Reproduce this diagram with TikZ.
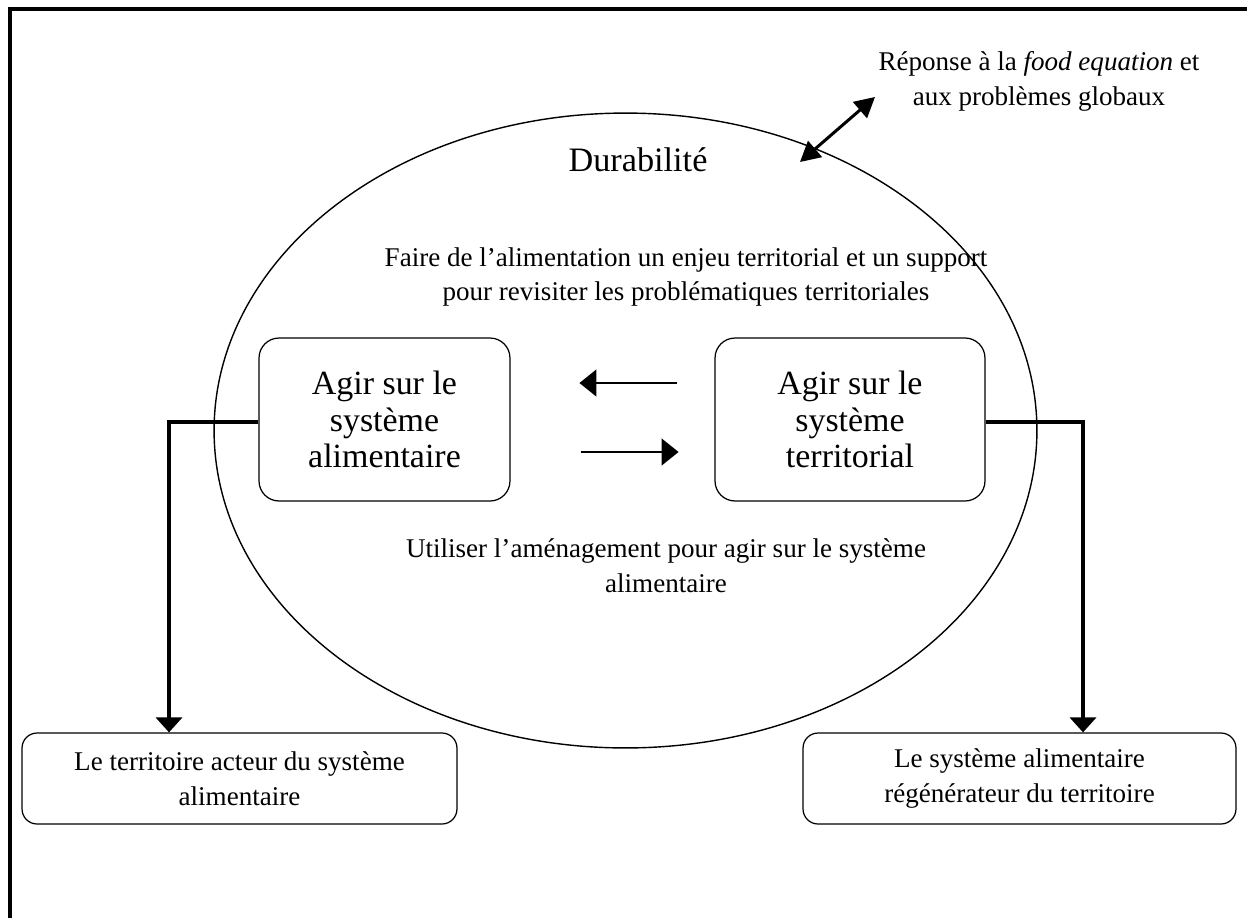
\documentclass[tikz,border=0pt]{standalone}
\usepackage{fontspec}
\setmainfont{Liberation Serif}
\usetikzlibrary{arrows.meta}

\begin{document}
\begin{tikzpicture}[x=0.02cm,y=-0.02cm,
		txt/.style={align=center,font=\fontsize{15.4}{19.9}\selectfont},
		bigbox/.style={draw,line width=0.7pt,rounded corners=0.4cm,align=center,inner sep=0pt,
			minimum height=3.26cm,font=\fontsize{19.3}{20.6}\selectfont},
		smallbox/.style={draw,line width=0.7pt,rounded corners=0.3cm,align=center,inner sep=0pt,
			minimum width=8.7cm,minimum height=1.82cm,font=\fontsize{15.4}{19.9}\selectfont},
		conn/.style={line width=2.3pt,-{Triangle[length=0.3cm,width=0.52cm]}},
		link/.style={line width=0.8pt,-{Triangle[length=0.34cm,width=0.54cm]}}]
		\useasboundingbox (0,0) rectangle (1247,917);

		% Frame
		\draw[line width=2.1pt] (10,9) rectangle (1300,1000);

		% Sustainability ellipse
		\draw[line width=0.8pt] (625.5,430.5) ellipse [x radius=8.23cm,y radius=6.35cm];
		\node (dura) at (638,160) {\fontsize{19.5}{24}\selectfont Durabilité};

		% Global link
		\node[txt] (reponse) at (1039,81) {Réponse à la \textit{food equation} et\\aux problèmes globaux};
		\coordinate (bas) at (800,162);
		\coordinate (haut) at (875,97);
		\draw[line width=1.7pt,{Triangle[length=0.4cm,width=0.42cm]}-{Triangle[length=0.4cm,width=0.42cm]}] (bas) -- (haut);

		% Two systems
		\node[txt] (faire) at (686,277) {Faire de l’alimentation un enjeu territorial et un support\\pour revisiter les problématiques territoriales};
		\node[bigbox,minimum width=5.02cm] (agiralim) at (384.5,419.5) {Agir sur le\\système\\alimentaire};
		\node[bigbox,minimum width=5.4cm] (agirterr) at (850,419.5) {Agir sur le\\système\\territorial};
		\draw[link] ([yshift=0.73cm]agirterr.west) ++(-0.74cm,0) coordinate (fl1) -- ++(-1.96cm,0);
		\draw[link] ([yshift=-0.65cm]agiralim.east) ++(1.4cm,0) coordinate (fl2) -- ++(1.96cm,0);
		\node[txt] (utiliser) at (666,566) {Utiliser l’aménagement pour agir sur le système\\alimentaire};

		% Outcomes
		\node[smallbox] (terracteur) at (239.5,778.5) {Le territoire acteur du système\\alimentaire};
		\node[smallbox,minimum width=8.66cm] (sysregen) at (1019.5,778.5) {Le système alimentaire\\régénérateur du territoire};
		\coordinate (coinL) at (169,422);
		\coordinate (coinR) at (1083,422);
		\draw[conn] (agiralim.west |- coinL) -- (coinL) -- (coinL |- terracteur.north);
		\draw[conn] (agirterr.east |- coinR) -- (coinR) -- (coinR |- sysregen.north);
\end{tikzpicture}
\end{document}
